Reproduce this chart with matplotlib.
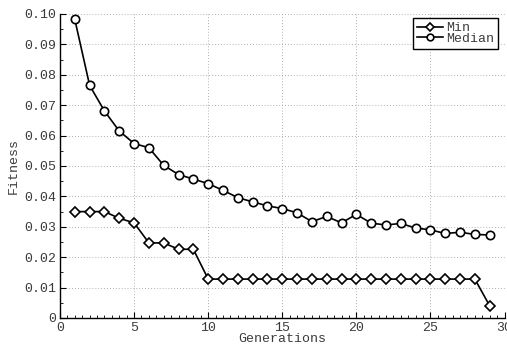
import matplotlib
matplotlib.use("Agg")
import matplotlib.pyplot as plt
from matplotlib.ticker import MultipleLocator, FuncFormatter

generations = list(range(1, 30))
fitness_min = [0.035, 0.035, 0.035, 0.0328, 0.0313, 0.0247, 0.0247, 0.0226, 0.0226,
               0.0128, 0.0128, 0.0128, 0.0128, 0.0128, 0.0128, 0.0128, 0.0128, 0.0128,
               0.0128, 0.0128, 0.0128, 0.0128, 0.0128, 0.0128, 0.0128, 0.0128, 0.0128,
               0.0128, 0.0040]
fitness_median = [0.0982, 0.0765, 0.0681, 0.0615, 0.0574, 0.0560, 0.0502, 0.0472, 0.0457,
                  0.0442, 0.0420, 0.0396, 0.0382, 0.0369, 0.0360, 0.0346, 0.0317, 0.0334,
                  0.0313, 0.0341, 0.0312, 0.0306, 0.0311, 0.0296, 0.0290, 0.0278, 0.0282,
                  0.0275, 0.0273]

plt.rcParams["font.family"] = ["Liberation Mono", "DejaVu Sans Mono"]
FS = 9.5
TEXT = "#3a3a3a"

W, H = 507, 345
fig = plt.figure(figsize=(W / 100, H / 100), dpi=100)
ax = fig.add_axes([60 / W, (H - 318) / H, (504.5 - 60) / W, (318 - 14) / H])

style = dict(color="black", linewidth=1.2, markerfacecolor="white",
             markeredgecolor="black", markeredgewidth=1.2)
ax.plot(generations, fitness_min, marker="D", markersize=5.5, label="Min", **style)
ax.plot(generations, fitness_median, marker="o", markersize=6, label="Median", **style)

ax.set_xlim(0, 30)
ax.set_ylim(0, 0.10)
ax.xaxis.set_major_locator(MultipleLocator(5))
ax.xaxis.set_minor_locator(MultipleLocator(0.5))
ax.yaxis.set_major_locator(MultipleLocator(0.01))
ax.yaxis.set_minor_locator(MultipleLocator(0.005))
ax.yaxis.set_major_formatter(FuncFormatter(lambda v, p: "0" if abs(v) < 1e-9 else f"{v:.2f}"))

ax.spines["top"].set_visible(False)
ax.spines["right"].set_visible(False)
for s in ("left", "bottom"):
    ax.spines[s].set_linewidth(1.0)
ax.tick_params(which="both", direction="in", colors="black", labelcolor=TEXT,
               labelsize=FS)
ax.tick_params(which="major", length=4, width=0.8, pad=3)
ax.tick_params(which="minor", length=2, width=0.6)
ax.grid(True, which="major", linestyle=(0, (1, 2.5)), color="#999999", linewidth=0.6)
ax.set_axisbelow(True)

ax.set_xlabel("Generations", fontsize=FS, color=TEXT, labelpad=-0.5)
ax.set_ylabel("Fitness", fontsize=FS, color=TEXT, labelpad=3)

leg = ax.legend(loc="upper right", bbox_to_anchor=(498 / W, 1 - 18 / H),
                bbox_transform=fig.transFigure, fontsize=FS, markerscale=0.8,
                frameon=True, fancybox=False, borderpad=0.3, handlelength=2.0,
                handletextpad=0.2, labelspacing=-0.1, borderaxespad=0.0)
leg.get_frame().set_edgecolor("black")
leg.get_frame().set_linewidth(1.0)
leg.get_frame().set_alpha(1)
for t in leg.get_texts():
    t.set_color(TEXT)

fig.savefig("out.png", dpi=100)
